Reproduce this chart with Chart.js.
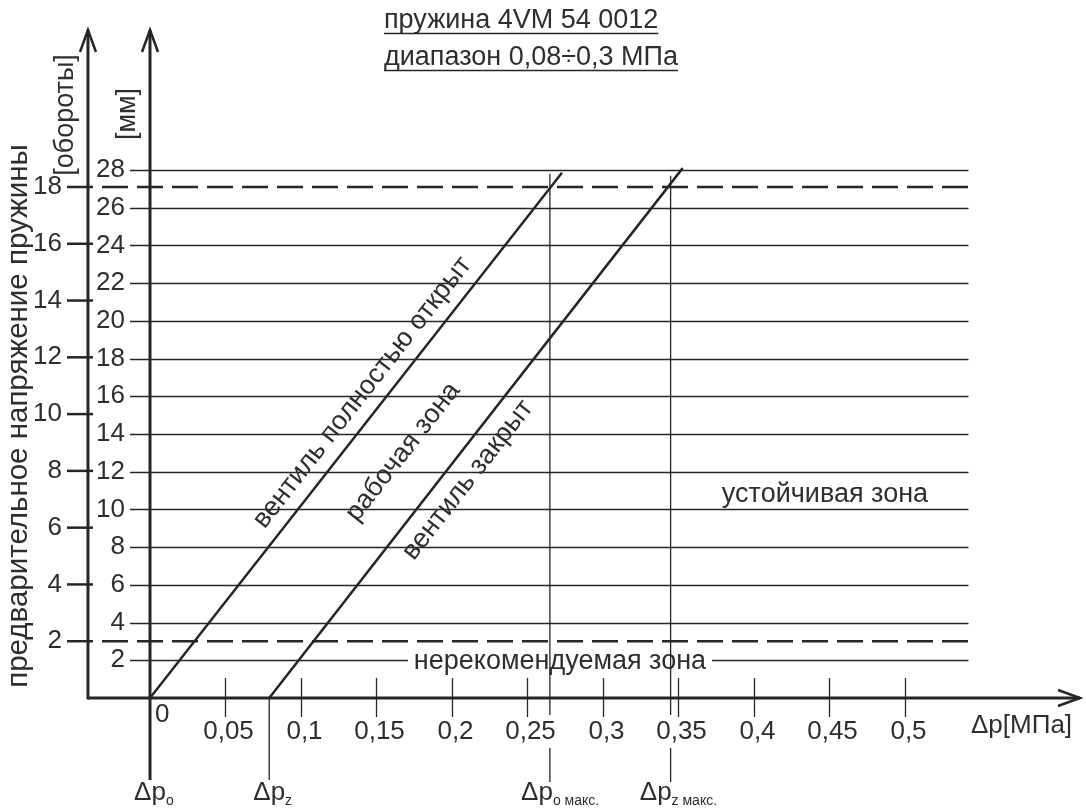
<!DOCTYPE html>
<html>
<head>
<meta charset="utf-8">
<script src="https://cdn.jsdelivr.net/npm/chart.js@4"></script>
<style>
  html, body { margin: 0; padding: 0; background: #fff; }
  #wrap { width: 1086px; height: 810px; }
</style>
</head>
<body>
<div id="wrap"><canvas id="chart" width="1086" height="810"></canvas></div>
<script>
// ----------------- DATA -----------------
const pressureTicks = [0.05, 0.1, 0.15, 0.2, 0.25, 0.3, 0.35, 0.4, 0.45, 0.5];
const pressureTickLabels = ["0,05", "0,1", "0,15", "0,2", "0,25", "0,3", "0,35", "0,4", "0,45", "0,5"];
const mmTicks = [2, 4, 6, 8, 10, 12, 14, 16, 18, 20, 22, 24, 26, 28];
const turnTicks = [2, 4, 6, 8, 10, 12, 14, 16, 18];

// valve fully open / valve closed lines (x: MPa, y: mm)
const openX = [0, 0.273];
const openY = [0, 27.85];
const closedX = [0.079, 0.353];
const closedY = [0, 28.1];

// recommended range limits in turns
const limitTurns = [2, 18];

// characteristic pressures (MPa)
const dpOpen = 0;
const dpClosed = 0.079;
const dpOpenMax = 0.265;
const dpClosedMax = 0.345;

// ----------------- LAYOUT -----------------
const W = 1086, H = 810;
const ORIGIN_X = 150, ORIGIN_Y = 698;   // pixel of (0 MPa, 0 mm)
const PX_PER_MPA = 1509;
const PX_PER_MM = 18.857;
const PX_PER_TURN = 28.39;

const FONT = "'Liberation Sans', Arial, sans-serif";
const INK = "#262626";
const TEXT = "#2e2e2e";
const LBL = 27;   // cyrillic labels
const NUM = 26;   // numbers

const gridFrom = -0.0133, gridTo = 0.5424, dashFrom = -0.0318;
const turnsAxisX = -0.0411;
const axisTopY = 30, arrowRightX = 1080;

function pts(xs, ys) { return xs.map((v, i) => ({ x: v, y: ys[i] })); }

function seg(ctx, x1, y1, x2, y2) {
  ctx.beginPath(); ctx.moveTo(x1, y1); ctx.lineTo(x2, y2); ctx.stroke();
}

function arrowUp(ctx, x, y) {
  ctx.beginPath();
  ctx.moveTo(x - 8, y + 22); ctx.lineTo(x, y); ctx.lineTo(x + 8, y + 22);
  ctx.stroke();
}

function arrowRight(ctx, x, y) {
  ctx.beginPath();
  ctx.moveTo(x - 22, y - 8); ctx.lineTo(x, y); ctx.lineTo(x - 22, y + 8);
  ctx.stroke();
}

function text(ctx, s, x, y, size, align, base, rot) {
  ctx.save();
  ctx.translate(x, y);
  if (rot) ctx.rotate(rot);
  ctx.font = size + "px " + FONT;
  ctx.fillStyle = TEXT;
  ctx.textAlign = align || "center";
  ctx.textBaseline = base || "middle";
  ctx.fillText(s, 0, 0);
  ctx.restore();
}

// Δp with a subscript, "right" puts the end of "Δp" on the given x
function deltaLabel(ctx, sub, x, y, align) {
  ctx.save();
  ctx.font = NUM + "px " + FONT;
  const w = ctx.measureText("Δp").width;
  const left = align === "right" ? x - w : x - w / 2;
  ctx.fillStyle = TEXT;
  ctx.textAlign = "left";
  ctx.textBaseline = "alphabetic";
  ctx.fillText("Δp", left, y);
  ctx.font = "14px " + FONT;
  ctx.fillText(sub, left + w, y + 5);
  ctx.restore();
}

// ----------------- PLUGIN -----------------
const drawing = {
  id: "drawing",
  beforeDatasetsDraw(chart) {
    const ctx = chart.ctx;
    const sx = chart.scales.x, sy = chart.scales.y;
    ctx.save();
    ctx.strokeStyle = INK;
    ctx.lineWidth = 1.3;
    mmTicks.forEach(v => {
      const py = Math.round(sy.getPixelForValue(v)) + 0.5;
      seg(ctx, sx.getPixelForValue(gridFrom), py, sx.getPixelForValue(gridTo), py);
    });

    // "нерекомендуемая зона" sits on the 2 mm grid line
    const nx = sx.getPixelForValue(0.2717), ny = sy.getPixelForValue(1.91);
    ctx.fillStyle = "#fff";
    ctx.fillRect(nx - 152, ny - 12, 304, 24);
    text(ctx, "нерекомендуемая зона", nx, ny, LBL);
    ctx.restore();
  },
  afterDatasetsDraw(chart) {
    const ctx = chart.ctx;
    const sx = chart.scales.x, sy = chart.scales.y, st = chart.scales.yT;
    const x0 = sx.getPixelForValue(0), y0 = sy.getPixelForValue(0);
    const xt = sx.getPixelForValue(turnsAxisX);
    ctx.save();
    ctx.strokeStyle = INK;
    ctx.lineCap = "butt";

    // axes
    ctx.lineWidth = 3;
    seg(ctx, xt, y0, arrowRightX, y0);
    seg(ctx, xt, y0 + 1.5, xt, axisTopY);
    seg(ctx, x0, y0, x0, axisTopY);
    ctx.lineWidth = 2.5;
    arrowUp(ctx, xt, axisTopY);
    arrowUp(ctx, x0, axisTopY);
    arrowRight(ctx, arrowRightX, y0);

    // pressure ticks
    ctx.lineWidth = 1.3;
    pressureTicks.forEach((v, i) => {
      const px = Math.round(sx.getPixelForValue(v)) + 0.5;
      seg(ctx, px, y0 - 20, px, y0 + 19);
      text(ctx, pressureTickLabels[i], px + 3, y0 + 34, NUM);
    });
    text(ctx, "0", x0 + 5, y0 + 17, NUM, "left");

    // turns ticks
    ctx.lineWidth = 2.5;
    turnTicks.forEach(v => {
      const py = st.getPixelForValue(v);
      seg(ctx, xt - 21, py, xt + 5, py);
      text(ctx, String(v), xt - 26, py, NUM, "right");
    });

    // mm tick labels
    mmTicks.forEach(v => {
      text(ctx, String(v), x0 - 25, sy.getPixelForValue(v), NUM, "right");
    });

    // axis titles
    text(ctx, "предварительное напряжение пружины", 19, 416, 29.5, "center", "middle", -Math.PI / 2);
    text(ctx, "[обороты]", 66, 115, LBL, "center", "middle", -Math.PI / 2);
    text(ctx, "[мм]", 128, 114, LBL, "center", "middle", -Math.PI / 2);
    text(ctx, "Δp[МПа]", 971, y0 + 28, NUM, "left");

    // zone labels along the lines
    const p1 = { x: sx.getPixelForValue(openX[0]), y: sy.getPixelForValue(openY[0]) };
    const p2 = { x: sx.getPixelForValue(openX[1]), y: sy.getPixelForValue(openY[1]) };
    const ang = Math.atan2(p2.y - p1.y, p2.x - p1.x);
    text(ctx, "вентиль полностью открыт", sx.getPixelForValue(0.1408), sy.getPixelForValue(16.2), LBL, "center", "middle", ang);
    text(ctx, "рабочая зона", sx.getPixelForValue(0.1677), sy.getPixelForValue(13.05), LBL, "center", "middle", ang);
    text(ctx, "вентиль закрыт", sx.getPixelForValue(0.2107), sy.getPixelForValue(11.56), LBL, "center", "middle", ang);
    text(ctx, "устойчивая зона", sx.getPixelForValue(0.4473), sy.getPixelForValue(10.77), LBL);

    // pressure markers below the axis
    deltaLabel(ctx, "o", sx.getPixelForValue(dpOpen), 800, "center");
    deltaLabel(ctx, "z", sx.getPixelForValue(dpClosed), 800, "center");
    deltaLabel(ctx, "o макс.", sx.getPixelForValue(dpOpenMax) + 3, 800, "right");
    deltaLabel(ctx, "z макс.", sx.getPixelForValue(dpClosedMax) + 1, 800, "right");

    // title
    const titles = ["пружина 4VM 54 0012", "диапазон 0,08÷0,3 МПа"];
    ctx.font = LBL + "px " + FONT;
    ctx.lineWidth = 1.3;
    titles.forEach((t, i) => {
      const by = 28 + i * 37;
      text(ctx, t, 384, by, LBL, "left", "alphabetic");
      const w = ctx.measureText(t).width;
      seg(ctx, 384, by + 5.5, 384 + w, by + 5.5);
    });
    ctx.restore();
  }
};

// ----------------- CHART -----------------
const thin = { borderColor: INK, borderWidth: 1.3 };
const ctx = document.getElementById("chart").getContext("2d");
const chart = new Chart(ctx, {
  type: "scatter",
  data: {
    datasets: [
      { data: pts(openX, openY), borderColor: INK, borderWidth: 2.5 },
      { data: pts(closedX, closedY), borderColor: INK, borderWidth: 2.5 },
      ...limitTurns.map(t => ({
        yAxisID: "yT",
        data: [{ x: dashFrom, y: t }, { x: gridTo, y: t }],
        borderColor: INK, borderWidth: 2.5, borderDash: [26, 9]
      })),
      { ...thin, data: [{ x: dpOpenMax, y: 27.8 }, { x: dpOpenMax, y: -0.9 }, { x: dpOpenMax, y: null }, { x: dpOpenMax, y: -2.65 }, { x: dpOpenMax, y: -4.45 }] },
      { ...thin, data: [{ x: dpClosedMax, y: 27.7 }, { x: dpClosedMax, y: -0.9 }, { x: dpClosedMax, y: null }, { x: dpClosedMax, y: -2.65 }, { x: dpClosedMax, y: -4.45 }] },
      { ...thin, data: [{ x: dpClosed, y: 0 }, { x: dpClosed, y: -4.35 }] },
      { data: [{ x: dpOpen, y: 0 }, { x: dpOpen, y: -4.35 }], borderColor: INK, borderWidth: 3 }
    ].map(d => ({ showLine: true, pointRadius: 0, borderCapStyle: "butt", ...d }))
  },
  options: {
    responsive: false,
    animation: false,
    layout: { padding: 0 },
    plugins: { legend: { display: false }, tooltip: { enabled: false } },
    scales: {
      x: { type: "linear", display: false, min: -ORIGIN_X / PX_PER_MPA, max: (W - ORIGIN_X) / PX_PER_MPA },
      y: { type: "linear", display: false, min: -(H - ORIGIN_Y) / PX_PER_MM, max: ORIGIN_Y / PX_PER_MM },
      yT: { type: "linear", display: false, min: -(H - ORIGIN_Y) / PX_PER_TURN, max: ORIGIN_Y / PX_PER_TURN }
    }
  },
  plugins: [drawing]
});
</script>
</body>
</html>
